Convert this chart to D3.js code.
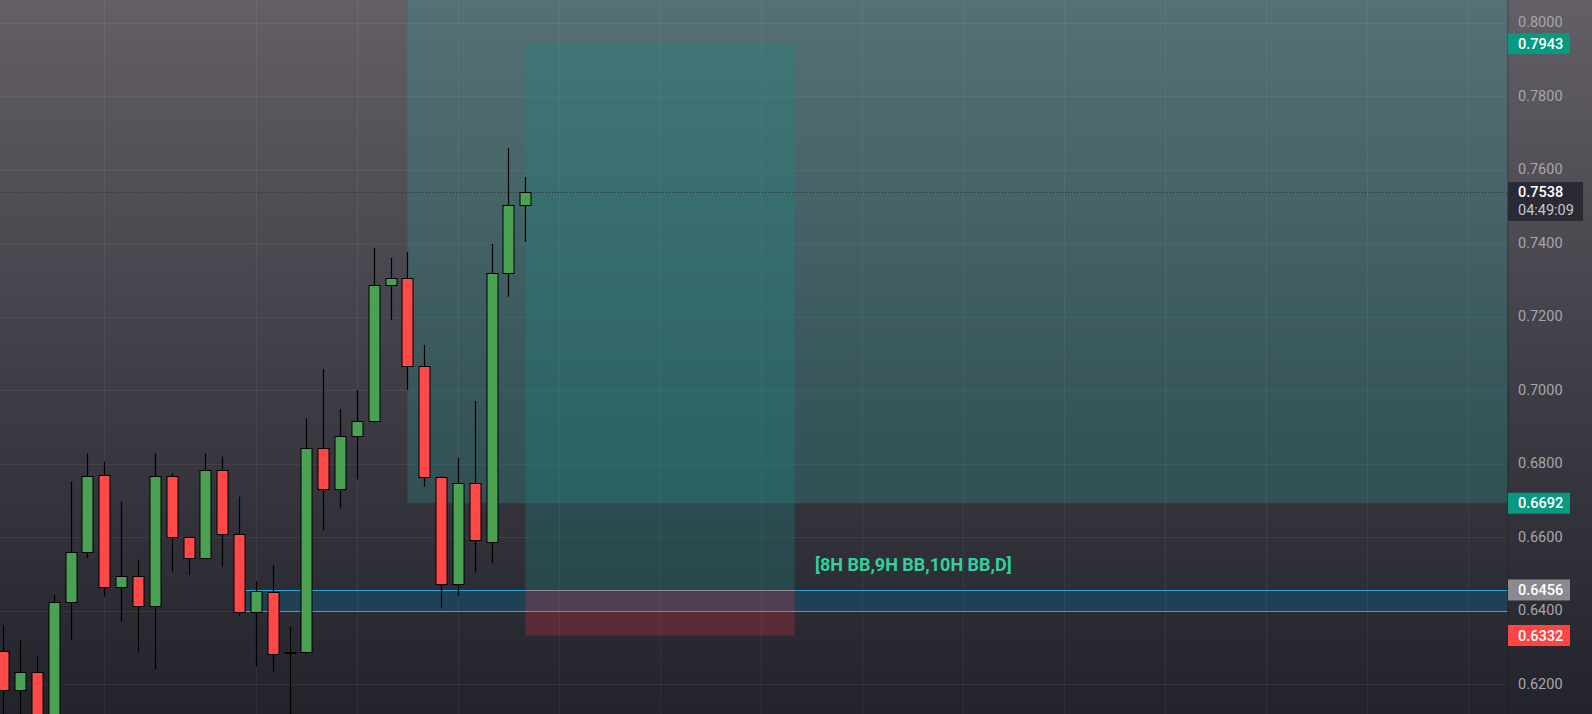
<!DOCTYPE html>
<html>
<head>
<meta charset="utf-8">
<script src="https://cdn.jsdelivr.net/npm/d3@7"></script>
<style>
  html, body { margin: 0; padding: 0; background: #22232b; overflow: hidden; }
  svg { display: block; }
</style>
</head>
<body>
<svg id="chart" width="1592" height="714"></svg>
<script>
// ---------------- data ----------------
const candleIndex = [0,1,2,3,4,5,6,7,8,9,10,11,12,13,14,15,16,17,18,19,20,21,22,23,24,25,26,27,28,29,30,31];
const opens  = [0.6290,0.6183,0.6232,0.6050,0.6422,0.6559,0.6768,0.6464,0.6493,0.6412,0.6765,0.6599,0.6542,0.6782,0.6608,0.6395,0.6451,0.6283,0.6286,0.6842,0.6731,0.6874,0.6915,0.7285,0.7304,0.7065,0.6763,0.6471,0.6746,0.6587,0.7318,0.7503];
const highs  = [0.6361,0.6319,0.6276,0.6442,0.6751,0.6828,0.6805,0.6696,0.6538,0.6828,0.6774,0.6600,0.6828,0.6819,0.6710,0.6480,0.6524,0.6356,0.6923,0.7057,0.6948,0.7000,0.7387,0.7360,0.7376,0.7123,0.6765,0.6816,0.6970,0.7398,0.7659,0.7580];
const lows   = [0.6080,0.6080,0.6050,0.6020,0.6320,0.6542,0.6438,0.6370,0.6285,0.6240,0.6506,0.6497,0.6542,0.6519,0.6386,0.6247,0.6234,0.6090,0.6283,0.6619,0.6678,0.6757,0.6911,0.7191,0.7000,0.6737,0.6406,0.6440,0.6503,0.6529,0.7254,0.7404];
const closes = [0.6183,0.6232,0.6080,0.6422,0.6559,0.6765,0.6464,0.6493,0.6412,0.6765,0.6599,0.6542,0.6782,0.6608,0.6395,0.6452,0.6281,0.6286,0.6842,0.6731,0.6874,0.6915,0.7285,0.7304,0.7065,0.6763,0.6471,0.6746,0.6591,0.7318,0.7503,0.7538];

const yTicks = [0.62,0.64,0.66,0.68,0.70,0.72,0.74,0.76,0.78,0.80];
const gridIndex = [6,15,21,27,33,39,45,51,57,63,69,75,81,87];

const currentPrice = 0.7538;
const countdown = "04:49:09";
const entryPrice = 0.6456;
const targetPrice = 0.7943;
const stopPrice = 0.6332;
const zoneTop = 0.8100;
const zoneBottom = 0.6692;
const bandTop = 0.6456;
const bandBottom = 0.6398;
const noteText = "[8H BB,9H BB,10H BB,D]";

// ---------------- layout ----------------
const W = 1592, H = 714, plotRight = 1507.5;
const svg = d3.select("#chart");
const x = d3.scaleLinear().domain([0, 31]).range([3.3, 525.3]);
const y = d3.scaleLinear().domain([0.62, 0.80]).range([684, 22.7]);

const defs = svg.append("defs");
const grad = defs.append("linearGradient").attr("id","bg").attr("x1",0).attr("y1",0).attr("x2",0).attr("y2",1);
grad.append("stop").attr("offset","0%").attr("stop-color","#645f66");
grad.append("stop").attr("offset","50%").attr("stop-color","#413f48");
grad.append("stop").attr("offset","100%").attr("stop-color","#22232b");
defs.append("clipPath").attr("id","plotclip").append("rect").attr("x",0).attr("y",0).attr("width",plotRight).attr("height",H);

svg.append("rect").attr("width",W).attr("height",H).attr("fill","url(#bg)");

const plot = svg.append("g").attr("clip-path","url(#plotclip)");

// grid
plot.append("g").selectAll("line.h").data(yTicks).join("line")
  .attr("x1",0).attr("x2",plotRight)
  .attr("y1",d=>Math.round(y(d))+0.5).attr("y2",d=>Math.round(y(d))+0.5)
  .attr("stroke","rgba(255,255,255,0.06)").attr("stroke-width",1);
plot.append("g").selectAll("line.v").data(gridIndex).join("line")
  .attr("y1",0).attr("y2",H)
  .attr("x1",d=>Math.round(x(d))+0.5).attr("x2",d=>Math.round(x(d))+0.5)
  .attr("stroke","rgba(255,255,255,0.06)").attr("stroke-width",1);

// big teal zone
plot.append("rect")
  .attr("x", x(24)).attr("y", y(zoneTop))
  .attr("width", plotRight - x(24)).attr("height", y(zoneBottom) - y(zoneTop))
  .attr("fill","rgba(38,166,154,0.25)");

// horizontal band
const bandX = x(14.4);
plot.append("rect")
  .attr("x", bandX).attr("y", y(bandTop))
  .attr("width", plotRight - bandX).attr("height", y(bandBottom) - y(bandTop))
  .attr("fill","rgba(0,115,165,0.30)");

// long position tool
const posX0 = x(31), posX1 = x(47);
plot.append("rect")
  .attr("x", posX0).attr("y", y(targetPrice))
  .attr("width", posX1 - posX0).attr("height", y(entryPrice) - y(targetPrice))
  .attr("fill","rgba(25,135,128,0.30)");
plot.append("rect")
  .attr("x", posX0).attr("y", y(entryPrice))
  .attr("width", posX1 - posX0).attr("height", y(stopPrice) - y(entryPrice))
  .attr("fill","rgba(242,54,69,0.24)");

// band lines
[bandTop, bandBottom].forEach(v => {
  plot.append("line")
    .attr("x1", bandX).attr("x2", plotRight)
    .attr("y1", Math.round(y(v))+0.5).attr("y2", Math.round(y(v))+0.5)
    .attr("stroke","#2ea4d8").attr("stroke-width",1.2);
});
plot.append("line")
  .attr("x1", posX0).attr("x2", posX1)
  .attr("y1", Math.round(y(entryPrice))+0.5).attr("y2", Math.round(y(entryPrice))+0.5)
  .attr("stroke","#8f8e96").attr("stroke-width",1.2);

// current price dotted line
plot.append("line")
  .attr("x1",0).attr("x2",plotRight)
  .attr("y1",Math.round(y(currentPrice))+0.5).attr("y2",Math.round(y(currentPrice))+0.5)
  .attr("stroke","#2b2c36").attr("stroke-width",1).attr("stroke-dasharray","1,2");

// candles
const candles = candleIndex.map((d,i)=>({i:d,o:opens[i],h:highs[i],l:lows[i],c:closes[i]}));
const cg = plot.append("g");
cg.selectAll("line.wick").data(candles).join("line")
  .attr("x1",d=>Math.round(x(d.i))+0.5).attr("x2",d=>Math.round(x(d.i))+0.5)
  .attr("y1",d=>y(d.h)).attr("y2",d=>y(d.l))
  .attr("stroke","#000").attr("stroke-width",1.2);
cg.selectAll("rect.body").data(candles).join("rect")
  .attr("x",d=>Math.round(x(d.i))-5)
  .attr("y",d=>Math.round(y(Math.max(d.o,d.c)))+0.5)
  .attr("width",11)
  .attr("height",d=>Math.max(1,Math.round(Math.abs(y(d.o)-y(d.c)))))
  .attr("fill",d=>d.c>=d.o?"#4aa152":"#ff4848")
  .attr("stroke","#000").attr("stroke-width",1);

// note text
plot.append("text")
  .attr("x", x(48.2)).attr("y", 564)
  .attr("dominant-baseline","central")
  .attr("font-family","Roboto, sans-serif").attr("font-weight","bold").attr("font-size",18)
  .attr("fill","#30d19a")
  .text(noteText);

// ---------------- price axis ----------------
const axisG = svg.append("g");
axisG.append("line").attr("x1",plotRight+0.5).attr("x2",plotRight+0.5).attr("y1",0).attr("y2",H)
  .attr("stroke","rgba(20,20,28,0.35)").attr("stroke-width",1);
const labelX = 1518;
const fmt = d3.format(".4f");
axisG.selectAll("text.tick").data(yTicks).join("text")
  .attr("x",labelX).attr("y",d=>y(d))
  .attr("dominant-baseline","central")
  .attr("font-family","Roboto, sans-serif").attr("font-size",14.5)
  .attr("fill","#a4a6ae")
  .text(d=>fmt(d));

function tag(v, bg, w) {
  axisG.append("rect").attr("x",plotRight+0.5).attr("y",y(v)-10.5).attr("width",w).attr("height",21).attr("fill",bg);
  axisG.append("text").attr("x",labelX).attr("y",y(v)+0.5)
    .attr("dominant-baseline","central")
    .attr("font-family","Roboto, sans-serif").attr("font-size",14.5).attr("font-weight",500)
    .attr("fill","#ffffff").text(fmt(v));
}
tag(targetPrice, "#089981", 62);
tag(zoneBottom, "#089981", 62);
tag(entryPrice, "#8b8a90", 62);
tag(stopPrice, "#ff4444", 62);

// current price tag
axisG.append("rect").attr("x",plotRight+0.5).attr("y",y(currentPrice)-10.5).attr("width",75).attr("height",39).attr("fill","#2a2a35");
axisG.append("text").attr("x",labelX).attr("y",y(currentPrice)+0.5)
  .attr("dominant-baseline","central")
  .attr("font-family","Roboto, sans-serif").attr("font-size",14.5).attr("font-weight",500)
  .attr("fill","#ffffff").text(fmt(currentPrice));
axisG.append("text").attr("x",labelX).attr("y",y(currentPrice)+18.5)
  .attr("dominant-baseline","central")
  .attr("font-family","Roboto, sans-serif").attr("font-size",14.5)
  .attr("fill","#c4c5cc").text(countdown);
</script>
</body>
</html>
